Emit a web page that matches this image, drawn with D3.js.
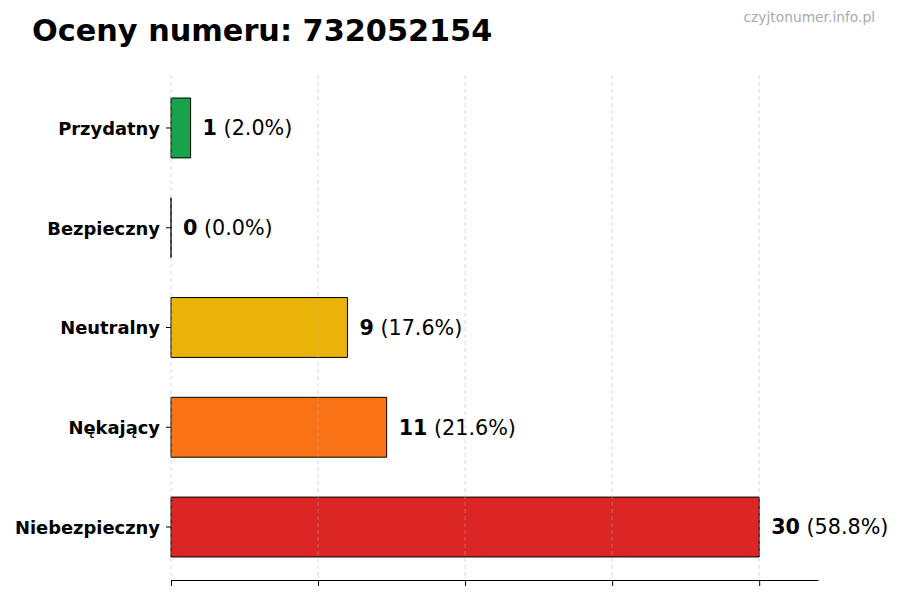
<!DOCTYPE html>
<html><head><meta charset="utf-8">
<script src="https://cdn.jsdelivr.net/npm/d3@7"></script>
<style>body{margin:0;background:#fff}svg{display:block}</style>
</head><body>
<svg id="c" width="900" height="600"></svg>
<script>
const categories = ["Przydatny", "Bezpieczny", "Neutralny", "Nękający", "Niebezpieczny"];
const counts = [1, 0, 9, 11, 30];
const percents = ["2.0%", "0.0%", "17.6%", "21.6%", "58.8%"];
const colors = ["#16a34a", "#9ca3af", "#eab308", "#f97316", "#dc2626"];
const xTicks = [0, 7.5, 15, 22.5, 30];
const title = "Oceny numeru: 732052154";
const watermark = "czyjtonumer.info.pl";

const svg = d3.select("#c");
const font = "DejaVu Sans, sans-serif";
const m = {left: 171, right: 818, top: 75, bottom: 580};

const x = d3.scaleLinear().domain([0, d3.max(counts) * 1.1]).range([m.left, m.right]);
const y = d3.scaleBand().domain(categories).range([m.top, m.bottom]).paddingInner(0.4).paddingOuter(0.231);

// bars (as paths so a zero-width bar still shows its edge)
svg.append("g").selectAll("path").data(categories).join("path")
  .attr("d", (d, i) => {
    const p = d3.path();
    p.rect(x(0), y(d), x(counts[i]) - x(0), y.bandwidth());
    return p.toString();
  })
  .attr("fill", (d, i) => colors[i])
  .attr("stroke", "#000").attr("stroke-width", 1);

// grid (over bars)
svg.append("g").selectAll("line").data(xTicks).join("line")
  .attr("x1", d => x(d)).attr("x2", d => x(d))
  .attr("y1", m.top).attr("y2", m.bottom)
  .attr("stroke", "#b0b0b0").attr("stroke-opacity", 0.6)
  .attr("stroke-dasharray", "4,3").attr("stroke-width", 0.8);

// x axis
const xa = svg.append("g").attr("transform", `translate(0,${m.bottom})`)
  .call(d3.axisBottom(x).tickValues(xTicks).tickFormat("").tickSize(6).tickSizeOuter(0));
xa.select(".domain").attr("stroke", "#000").attr("stroke-width", 1.2);
xa.selectAll(".tick line").attr("stroke", "#000").attr("stroke-width", 1);

// y axis
const ya = svg.append("g").attr("transform", `translate(${m.left},0)`)
  .call(d3.axisLeft(y).tickSize(5).tickPadding(6));
ya.select(".domain").remove();
ya.selectAll(".tick line").attr("stroke", "#000");
ya.selectAll(".tick text").attr("font-family", font).attr("font-weight", "bold")
  .attr("font-size", 17.9).attr("fill", "#000").attr("dy", "0.38em");

// value labels
const lab = svg.append("g").selectAll("text").data(categories).join("text")
  .attr("x", (d, i) => x(counts[i]) + 12)
  .attr("y", d => y(d) + y.bandwidth() / 2)
  .attr("dy", "0.36em")
  .attr("font-family", font).attr("font-size", 20.7).attr("fill", "#000");
lab.append("tspan").attr("font-weight", "bold").text((d, i) => counts[i]);
lab.append("tspan").text((d, i) => " (" + percents[i] + ")");

// title
svg.append("text").attr("x", 32).attr("y", 41)
  .attr("font-family", font).attr("font-weight", "bold").attr("font-size", 30.3)
  .attr("fill", "#000").text(title);

svg.append("text").attr("x", 875).attr("y", 22).attr("text-anchor", "end")
  .attr("font-family", font).attr("font-size", 13.8).attr("fill", "#aaaaaa").text(watermark);
</script>
</body></html>
